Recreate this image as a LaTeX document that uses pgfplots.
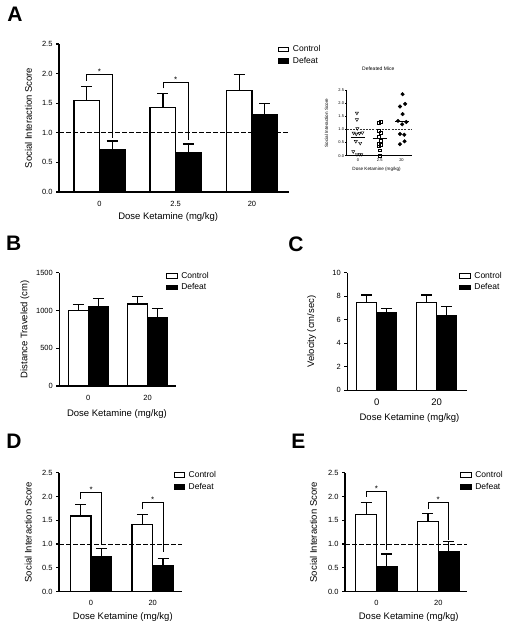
\documentclass[border=0pt]{standalone}
\usepackage{fontspec}
\setmainfont{Liberation Sans}
\usepackage{pgfplots}
\pgfplotsset{compat=1.18}
\newcommand{\fs}[1]{\fontsize{#1}{#1}\selectfont}

\pgfplotsset{
  panel/.style={
    scale only axis, anchor=south west, clip=false,
    axis x line*=bottom, axis y line*=left,
    axis line style={line width=1.2pt, black, -},
    tick align=outside, major tick length=3pt,
    ytick style={line width=1.2pt, black},
    xtick style={draw=none},
    tick label style={font=\fs{7.5}},
    label style={font=\fs{9.5}},
    xticklabel style={yshift=-2.5pt},
    ymin=0,
    legend style={draw=none, fill=none, anchor=north west, font=\fs{8.5},
      inner sep=0pt, nodes={inner sep=1pt}, row sep=2pt, column sep=2.5pt},
    legend cell align=left,
  },
  ctrl/.style={ybar, bar width=0.335, bar shift=0pt, fill=white, draw=black, line width=1.3pt,
    legend image code/.code={\draw[fill=white,draw=black,line width=1.1pt] (0pt,-2.3pt) rectangle (10.5pt,2.3pt);},
    error bars/.cd, y dir=plus, y explicit, error mark=-,
    error bar style={line width=1.2pt, black},
    error mark options={rotate=90, line width=1.2pt, mark size=5.5pt, black}},
  defe/.style={ybar, bar width=0.335, bar shift=0pt, fill=black, draw=black, line width=1.3pt,
    legend image code/.code={\draw[fill=black,draw=black,line width=1.1pt] (0pt,-2.3pt) rectangle (10.5pt,2.3pt);},
    error bars/.cd, y dir=plus, y explicit, error mark=-,
    error bar style={line width=1.2pt, black},
    error mark options={rotate=90, line width=1.2pt, mark size=5.5pt, black}},
  dash1/.style={forget plot, black, line width=1.1pt, dash pattern=on 4.5pt off 2.5pt},
  brk/.style={forget plot, black, line width=0.8pt},
}

\begin{document}
\begin{tikzpicture}[x=1pt,y=1pt]
\useasboundingbox (0,0) rectangle (509,628);

% panel letters
\node[font=\bfseries\fs{21}] at (15,613.5) {A};
\node[font=\bfseries\fs{21}] at (13.7,384.3) {B};
\node[font=\bfseries\fs{21}] at (296,383.7) {C};
\node[font=\bfseries\fs{21}] at (14,186.5) {D};
\node[font=\bfseries\fs{21}] at (298.3,186.5) {E};

% ---------------- Panel A ----------------
\begin{axis}[panel, at={(59pt,436pt)}, width=230.3pt, height=148pt,
  xmin=-0.53, xmax=2.49, ymax=2.5,
  xtick={0,1,2}, xticklabels={0,2.5,20},
  ytick={0,0.5,1,1.5,2,2.5}, yticklabels={0.0,0.5,1.0,1.5,2.0,2.5},
  ylabel={Social Interaction Score}, xlabel={Dose Ketamine (mg/kg)},
  ylabel style={at={(axis description cs:-0.133,0.5)}, anchor=center},
  xlabel style={at={(axis description cs:0.474,-0.167)}, anchor=center},
  legend style={at={(axis description cs:0.9496,0.997)}},
]
\addplot[ctrl] table[x=x,y=y,y error=e] {
x y e
-0.1675 1.55 0.23
0.8325 1.43 0.23
1.8325 1.71 0.28
};
\addlegendentry{Control}
\addplot[defe] table[x=x,y=y,y error=e] {
x y e
0.1675 0.71 0.15
1.1675 0.67 0.14
2.1675 1.31 0.18
};
\addlegendentry{Defeat}
\addplot[dash1] coordinates {(-0.53,1) (2.49,1)};
\addplot[brk] coordinates {(-0.1675,1.88) (-0.1675,1.99) (0.1675,1.99) (0.1675,0.92)};
\addplot[brk] coordinates {(0.8325,1.75) (0.8325,1.85) (1.1675,1.85) (1.1675,0.88)};
\node[font=\fs{8}, anchor=base] at (axis cs:0,1.99) {*};
\node[font=\fs{8}, anchor=base] at (axis cs:1,1.85) {*};
\end{axis}

% ---------------- Inset ----------------
\begin{axis}[scale only axis, anchor=south west, clip=false,
  at={(346.7pt,472.3pt)}, width=65pt, height=65.4pt,
  axis x line*=bottom, axis y line*=left,
  axis line style={line width=0.6pt, black, -},
  tick align=outside, major tick length=1.5pt,
  ytick style={line width=0.6pt, black}, xtick style={draw=none},
  tick label style={font=\fs{4}, inner sep=1pt},
  label style={font=\fs{4.6}},
  xmin=-0.52, xmax=2.47, ymin=0, ymax=2.5,
  xtick={0,1,2}, xticklabels={0,2.5,20},
  ytick={0,0.5,1,1.5,2,2.5}, yticklabels={0.0,0.5,1.0,1.5,2.0,2.5},
  ylabel={Social Interaction Score}, xlabel={Dose Ketamine (mg/kg)},
  ylabel style={at={(axis description cs:-0.31,0.5)}, anchor=center},
  xlabel style={at={(axis description cs:0.46,-0.203)}, anchor=center},
  title={Defeated Mice},
  title style={at={(axis description cs:0.486,1.234)}, anchor=center, font=\fs{5}},
]
\addplot[black!80, line width=0.8pt, dash pattern=on 2pt off 1.2pt] coordinates {(-0.52,1) (2.47,1)};
\addplot[only marks, mark=triangle, mark size=1.8pt, mark options={rotate=180, fill=white, draw=black, line width=0.45pt}] table {
x y
-0.05 1.63
-0.05 1.38
-0.03 1.04
-0.20 0.87
-0.08 0.83
0.07 0.86
0.20 0.88
-0.10 0.55
0.10 0.48
-0.22 0.16
-0.05 0.05
0.08 0.05
0.15 0.05
};
\addplot[only marks, mark=square, mark size=1.4pt, mark options={fill=white, draw=black, line width=0.45pt}] table {
x y
0.95 1.26
1.06 1.30
0.97 0.96
1.06 0.88
0.94 0.74
1.04 0.57
0.96 0.45
1.06 0.42
0.95 0.36
0.99 0.21
1.00 0.00
};
\addplot[only marks, mark=*, mark size=1.8pt, mark options={fill=black, draw=black}] table {
x y
2.05 2.35
2.17 1.98
1.93 1.88
2.05 1.59
1.84 1.33
2.22 1.29
2.03 1.20
1.93 0.83
2.13 0.80
2.14 0.55
1.93 0.44
};
\addplot[black, line width=0.8pt] coordinates {(-0.33,0.71) (0.33,0.71)};
\addplot[black, line width=0.8pt] coordinates {(0.67,0.67) (1.33,0.67)};
\addplot[black, line width=0.8pt] coordinates {(1.72,1.31) (2.34,1.31)};
\end{axis}

% ---------------- Panel B ----------------
\begin{axis}[panel, at={(59.3pt,242pt)}, width=116.7pt, height=113.3pt,
  xmin=-0.49, xmax=1.48, ymax=1500,
  xtick={0,1}, xticklabels={0,20},
  ytick={0,500,1000,1500}, yticklabels={0,500,1000,1500},
  ylabel={Distance Traveled (cm)}, xlabel={Dose Ketamine (mg/kg)},
  ylabel style={at={(axis description cs:-0.294,0.5)}, anchor=center},
  xlabel style={at={(axis description cs:0.494,-0.25)}, anchor=center},
  legend style={at={(axis description cs:0.914,1.017)}},
]
\addplot[ctrl] table[x=x,y=y,y error=e] {
x y e
-0.1675 1001 75
0.8325 1085 102
};
\addlegendentry{Control}
\addplot[defe] table[x=x,y=y,y error=e] {
x y e
0.1675 1046 114
1.1675 904 120
};
\addlegendentry{Defeat}
\end{axis}

% ---------------- Panel C ----------------
\begin{axis}[panel, at={(347.3pt,237.7pt)}, width=119.4pt, height=117.6pt,
  xmin=-0.49, xmax=1.5, ymax=10,
  xtick={0,1}, xticklabels={0,20},
  xticklabel style={font=\fs{9.5}},
  ytick={0,2,4,6,8,10}, yticklabels={0,2,4,6,8,10},
  ylabel={Velocity (cm/sec)}, xlabel={Dose Ketamine (mg/kg)},
  ylabel style={at={(axis description cs:-0.298,0.5)}, anchor=center},
  xlabel style={at={(axis description cs:0.521,-0.238)}, anchor=center},
  legend style={at={(axis description cs:0.936,1.016)}},
]
\addplot[ctrl] table[x=x,y=y,y error=e] {
x y e
-0.1675 7.45 0.65
0.8325 7.45 0.65
};
\addlegendentry{Control}
\addplot[defe] table[x=x,y=y,y error=e] {
x y e
0.1675 6.63 0.31
1.1675 6.32 0.79
};
\addlegendentry{Defeat}
\end{axis}

% ---------------- Panel D ----------------
\begin{axis}[panel, at={(59pt,36.3pt)}, width=122.7pt, height=119pt,
  xmin=-0.52, xmax=1.47, ymax=2.5,
  xtick={0,1}, xticklabels={0,20},
  ytick={0,0.5,1,1.5,2,2.5}, yticklabels={0.0,0.5,1.0,1.5,2.0,2.5},
  ylabel={Social Interaction Score}, xlabel={Dose Ketamine (mg/kg)},
  ylabel style={at={(axis description cs:-0.25,0.5)}, anchor=center},
  xlabel style={at={(axis description cs:0.52,-0.21)}, anchor=center},
  legend style={at={(axis description cs:0.932,1.021)}},
]
\addplot[ctrl] table[x=x,y=y,y error=e] {
x y e
-0.1675 1.59 0.25
0.8325 1.41 0.22
};
\addlegendentry{Control}
\addplot[defe] table[x=x,y=y,y error=e] {
x y e
0.1675 0.73 0.18
1.1675 0.55 0.15
};
\addlegendentry{Defeat}
\addplot[dash1] coordinates {(-0.52,1) (1.47,1)};
\addplot[brk] coordinates {(-0.1675,1.95) (-0.1675,2.09) (0.1675,2.09) (0.1675,0.98)};
\addplot[brk] coordinates {(0.8325,1.73) (0.8325,1.87) (1.1675,1.87) (1.1675,0.84)};
\node[font=\fs{8}, anchor=base] at (axis cs:0,2.09) {*};
\node[font=\fs{8}, anchor=base] at (axis cs:1,1.87) {*};
\end{axis}

% ---------------- Panel E ----------------
\begin{axis}[panel, at={(345pt,36.3pt)}, width=121.7pt, height=119pt,
  xmin=-0.51, xmax=1.46, ymax=2.5,
  xtick={0,1}, xticklabels={0,20},
  ytick={0,0.5,1,1.5,2,2.5}, yticklabels={0.0,0.5,1.0,1.5,2.0,2.5},
  ylabel={Social Interaction Score}, xlabel={Dose Ketamine (mg/kg)},
  ylabel style={at={(axis description cs:-0.26,0.5)}, anchor=center},
  xlabel style={at={(axis description cs:0.524,-0.21)}, anchor=center},
  legend style={at={(axis description cs:0.945,1.021)}},
]
\addplot[ctrl] table[x=x,y=y,y error=e] {
x y e
-0.1675 1.62 0.26
0.8325 1.48 0.16
};
\addlegendentry{Control}
\addplot[defe] table[x=x,y=y,y error=e] {
x y e
0.1675 0.52 0.27
1.1675 0.84 0.22
};
\addlegendentry{Defeat}
\addplot[dash1] coordinates {(-0.51,1) (1.46,1)};
\addplot[brk] coordinates {(-0.1675,1.99) (-0.1675,2.11) (0.1675,2.11) (0.1675,0.87)};
\addplot[brk] coordinates {(0.8325,1.73) (0.8325,1.87) (1.1675,1.87) (1.1675,1.09)};
\node[font=\fs{8}, anchor=base] at (axis cs:0,2.11) {*};
\node[font=\fs{8}, anchor=base] at (axis cs:1,1.87) {*};
\end{axis}
\end{tikzpicture}
\end{document}
